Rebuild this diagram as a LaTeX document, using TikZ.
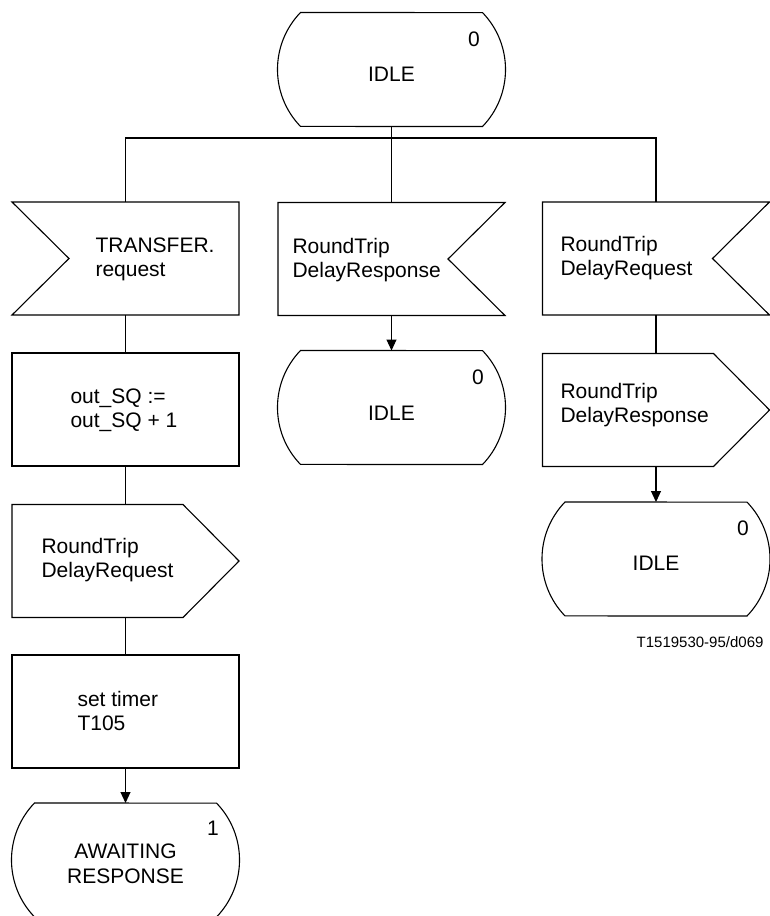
\documentclass[tikz,border=0pt]{standalone}
\usepackage{fontspec}
\setmainfont{Liberation Sans}
\usetikzlibrary{arrows.meta}
\newcommand\sdlstate[1]{%
  \draw ([xshift=23pt]#1.north west) arc[start angle=136,end angle=224,radius=82pt]
    -- ([xshift=-23pt]#1.south east) arc[start angle=-44,end angle=44,radius=82pt] -- cycle;}
\newcommand\sdlinputL[1]{%
  \draw (#1.north west) -- (#1.north east) -- (#1.south east) -- (#1.south west)
    -- ([xshift=57pt]#1.west) -- cycle;}
\newcommand\sdlinputR[1]{%
  \draw (#1.north west) -- (#1.north east) -- ([xshift=-57pt]#1.east)
    -- (#1.south east) -- (#1.south west) -- cycle;}
\newcommand\sdloutput[1]{%
  \draw (#1.north west) -- ([xshift=-56pt]#1.north east) -- (#1.east)
    -- ([xshift=-56pt]#1.south east) -- (#1.south west) -- cycle;}
\newcommand\sdltask[1]{%
  \draw (#1.north west) -- (#1.north east) -- (#1.south east) -- (#1.south west) -- cycle;}
\begin{document}
\begin{tikzpicture}[x=1pt,y=-1pt,line width=1.1pt,
  box/.style={minimum width=227pt,minimum height=113pt,inner sep=0pt,outer sep=0pt},
  stnode/.style={minimum width=228pt,minimum height=114pt,inner sep=0pt,outer sep=0pt},
  txt/.style={anchor=base west,inner sep=0pt,font=\fontsize{21}{24}\selectfont},
  ctxt/.style={anchor=base,inner sep=0pt,font=\fontsize{21}{24}\selectfont},
  mtxt/.style={anchor=center,inner sep=0pt,font=\fontsize{21}{24}\selectfont},
  arr/.style={-{Triangle[length=11pt 0,width=10pt 0]}}]
\useasboundingbox (0,0) rectangle (770,916);
% top state
\node[stnode] (s0) at (391.5,69.5) {};
\sdlstate{s0}
\node[mtxt] (s0num) at (474,39) {0};
\node[mtxt] (s0txt) at (391.5,74) {IDLE};
\coordinate (bus) at (391.5,138);
% row 1 inputs
\node[box] (in1) at (125.5,258.5) {};
\sdlinputL{in1}
\node[box] (in2) at (391.5,259) {};
\sdlinputR{in2}
\node[box] (in3) at (656,258.5) {};
\sdlinputR{in3}
\node[txt] (in1a) at (95,252) {TRANSFER.};
\node[txt] (in1b) at (95,276) {request};
\node[txt] (in2a) at (292,253) {RoundTrip};
\node[txt] (in2b) at (292,277) {DelayResponse};
\node[txt] (in3a) at (560,251) {RoundTrip};
\node[txt] (in3b) at (560,275) {DelayRequest};
% row 2
\node[box] (task1) at (125.5,409.5) {};
\sdltask{task1}
\node[txt] (t1a) at (70,403) {out\_SQ :=};
\node[txt] (t1b) at (70,427) {out\_SQ + 1};
\node[stnode] (st1) at (391.5,407.5) {};
\sdlstate{st1}
\node[mtxt] (st1num) at (478,377) {0};
\node[mtxt] (st1txt) at (391.5,413) {IDLE};
\node[box] (out2) at (656,410) {};
\sdloutput{out2}
\node[txt] (o2a) at (560,398) {RoundTrip};
\node[txt] (o2b) at (560,422) {DelayResponse};
% row 3
\node[box] (out1) at (125.5,561) {};
\sdloutput{out1}
\node[txt] (o1a) at (41,553) {RoundTrip};
\node[txt] (o1b) at (41,577) {DelayRequest};
\node[stnode] (st2) at (656,559) {};
\sdlstate{st2}
\node[mtxt] (st2num) at (743,528) {0};
\node[mtxt] (st2txt) at (656,563) {IDLE};
% row 4
\node[box] (task2) at (125.5,711.5) {};
\sdltask{task2}
\node[txt] (t2a) at (77,706) {set timer};
\node[txt] (t2b) at (77,730) {T105};
% row 5
\node[stnode] (st3) at (125.5,860) {};
\sdlstate{st3}
\node[mtxt] (st3num) at (213,828) {1};
\node[ctxt] (st3a) at (125.5,858) {AWAITING};
\node[ctxt] (st3b) at (125.5,883) {RESPONSE};
% reference label
\node[anchor=base east,inner sep=0pt,font=\fontsize{15}{18}\selectfont] (ref) at (764,647) {T1519530-95/d069};
% connectors
\draw (s0.south) -- (bus);
\draw (bus) -| (in1.north);
\draw (bus) -| (in3.north);
\draw (bus) -- (in2.north);
\draw (in1.south) -- (task1.north);
\draw (task1.south) -- (out1.north);
\draw (out1.south) -- (task2.north);
\draw[arr] (task2.south) -- (st3.north);
\draw[arr] (in2.south) -- (st1.north);
\draw (in3.south) -- (out2.north);
\draw[arr] (out2.south) -- (st2.north);
\end{tikzpicture}
\end{document}
